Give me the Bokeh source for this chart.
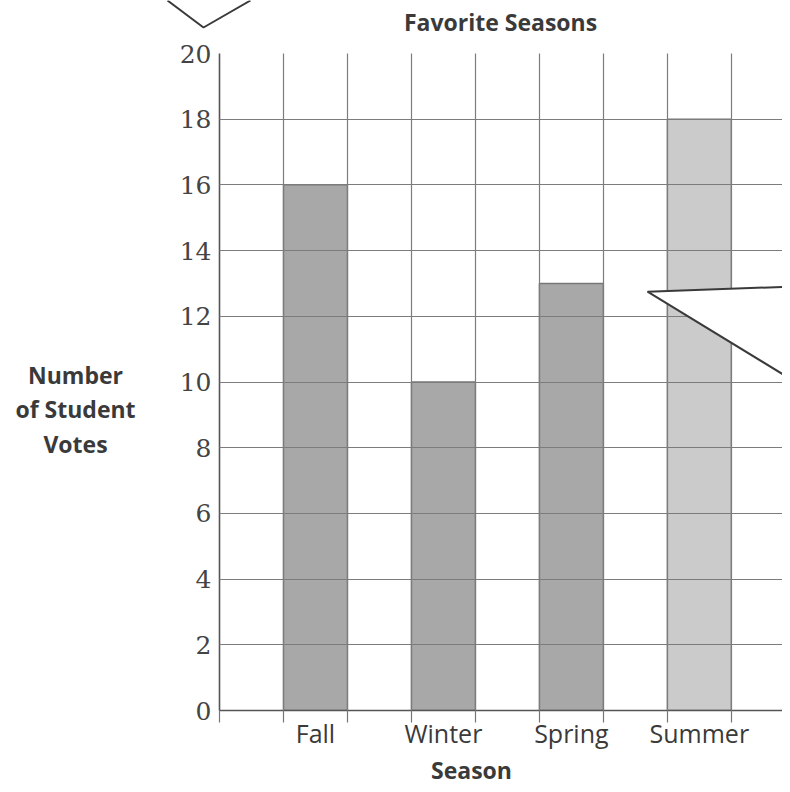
from bokeh.plotting import figure
from bokeh.models import FixedTicker, ColumnDataSource, Range1d
from bokeh.layouts import column, row
from bokeh.core.properties import value
from bokeh.embed import file_html
from bokeh.resources import INLINE

# ---- data ----
seasons = ["Fall", "Winter", "Spring", "Summer"]
votes = [16, 10, 13, 18]
y_ticks = [0, 2, 4, 6, 8, 10, 12, 14, 16, 18, 20]
title_text = "Favorite Seasons"
x_title = "Season"
y_title_lines = ["Number", "of Student", "Votes"]

# ---- styles ----
bar_colors = ["#a8a8a8", "#a8a8a8", "#a8a8a8", "#cbcbcb"]
TEXT = "#3a3a3a"
GRID = "#7c7c7c"
FONT = "Open Sans"

# ---- decoration geometry (canvas pixels, y from top; text y = vertical middle) ----
title_pos = (500, 21)
y_title_x = 75
y_title_mids = [375, 409, 444]
x_title_pos = (471, 769)
callout_top_xs = [167, 203, 250]
callout_top_ys = [0, 27, 0]
callout_right_xs = [6.69, 9.5, 9.5]
callout_right_ys = [12.75, 12.94, 9.41]

W, H = 782, 784
TOP_H, LEFT_W, BOT_Y = 40, 150, 752
FRAME_TOP, FRAME_BOT, FRAME_LEFT = 53, 711, 219


def blank_fig(w, h, yr=None):
    f = figure(width=w, height=h, x_range=Range1d(0, w), y_range=yr or Range1d(0, h),
               output_backend="svg", toolbar_location=None, min_border=0,
               x_axis_location=None, y_axis_location=None)
    f.grid.visible = False
    f.outline_line_color = None
    f.background_fill_color = "white"
    f.border_fill_color = "white"
    return f


txt_style = dict(text_align="center", text_baseline="middle", text_font=value(FONT),
                 text_font_style="bold", text_font_size="23px", text_color=TEXT)

# top strip: title and speech-bubble tail (canvas y 0..TOP_H)
top = blank_fig(W, TOP_H)
top.text(x=[title_pos[0]], y=[TOP_H - title_pos[1]], text=[title_text], **txt_style)
top.line(callout_top_xs, [TOP_H - v for v in callout_top_ys], line_color="#3a3a3a", line_width=2)

# left strip: y-axis title; its frame is aligned with the chart frame in the row
left_h = BOT_Y - TOP_H
left = blank_fig(LEFT_W, left_h, Range1d(0, FRAME_BOT - FRAME_TOP))
left.text(x=[y_title_x] * 3, y=[FRAME_BOT - v for v in y_title_mids], text=y_title_lines, **txt_style)

# bottom strip: x-axis title (canvas y BOT_Y..H)
bottom = blank_fig(W, H - BOT_Y)
bottom.text(x=[x_title_pos[0]], y=[H - x_title_pos[1]], text=[x_title], **txt_style)

# main chart
x_pos = [1.5 + 2 * i for i in range(len(seasons))]
src = ColumnDataSource(dict(x=x_pos, top=votes, season=seasons, color=bar_colors))

p = figure(width=W - LEFT_W, height=left_h, x_range=Range1d(0, 8.8), y_range=Range1d(0, 20),
           output_backend="svg", toolbar_location=None,
           min_border_left=FRAME_LEFT - LEFT_W, min_border_right=0,
           min_border_top=FRAME_TOP - TOP_H, min_border_bottom=BOT_Y - FRAME_BOT)
p.background_fill_color = "white"
p.border_fill_color = "white"
p.outline_line_color = None

p.vbar(x="x", top="top", width=1.0, bottom=0, source=src,
       fill_color="color", line_color="#777777", line_width=1.4)

xa = p.xaxis[0]
xa.ticker = FixedTicker(ticks=x_pos, minor_ticks=list(range(0, 10)))
xa.major_label_overrides = {x: s for x, s in zip(x_pos, seasons)}
xa.major_tick_line_color = None
xa.major_tick_out = 0
xa.major_tick_in = 0
xa.minor_tick_out = 12
xa.minor_tick_in = 0
xa.minor_tick_line_color = "#777777"
xa.minor_tick_line_width = 1.2
xa.axis_line_color = "#555555"
xa.axis_line_width = 1.6
xa.major_label_text_font = FONT
xa.major_label_text_font_size = "25px"
xa.major_label_text_color = TEXT
xa.major_label_standoff = -7

ya = p.yaxis[0]
ya.ticker = FixedTicker(ticks=y_ticks, minor_ticks=[])
ya.major_tick_out = 0
ya.major_tick_in = 0
ya.minor_tick_line_color = None
ya.axis_line_color = "#555555"
ya.axis_line_width = 1.6
ya.major_label_text_font = "DejaVu Serif"
ya.major_label_text_font_size = "25px"
ya.major_label_text_color = "#444444"
ya.major_label_standoff = 8

p.xgrid.ticker = FixedTicker(ticks=list(range(0, 10)))
p.ygrid.ticker = FixedTicker(ticks=y_ticks)
for g in (p.xgrid[0], p.ygrid[0]):
    g.grid_line_color = GRID
    g.grid_line_width = 1.2
    g.level = "annotation"

# speech-bubble tail on the right
p.patch(callout_right_xs, callout_right_ys, fill_color="white", line_color="#3a3a3a",
        line_width=2, level="overlay")

layout = column(top, row(left, p), bottom)
open("out.html", "w").write(file_html(layout, INLINE))
